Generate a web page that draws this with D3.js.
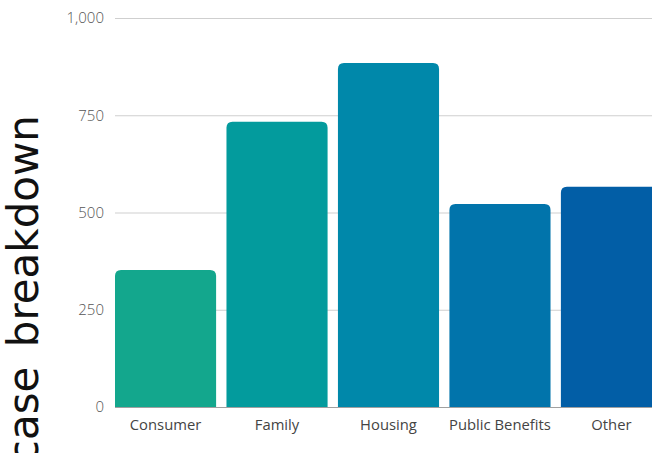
<!DOCTYPE html>
<html>
<head>
<meta charset="utf-8">
<script src="https://cdn.jsdelivr.net/npm/d3@7"></script>
<style>
  body { margin: 0; background: #fff; }
  svg { display: block; }
</style>
</head>
<body>
<svg id="chart" width="652" height="453"></svg>
<script>
var categories = ["Consumer", "Family", "Housing", "Public Benefits", "Other"];
var values = [352, 733, 884, 522, 566];
var colors = ["#13a78d", "#039b9d", "#0088aa", "#0174ab", "#025ea6"];
var yTicks = [0, 250, 500, 750, 1000];

var svg = d3.select("#chart");
var width = 652, height = 453;
var plotLeft = 115, plotBottom = 407, plotTop = 18;

var x = d3.scaleBand()
    .domain(categories)
    .range([plotLeft, 662])
    .paddingInner(0.093)
    .paddingOuter(0);

var y = d3.scaleLinear()
    .domain([0, 1000])
    .range([plotBottom, plotTop]);

// grid
svg.append("g")
    .selectAll("line")
    .data(yTicks.filter(function(d) { return d > 0; }))
    .join("line")
    .attr("x1", plotLeft)
    .attr("x2", width)
    .attr("y1", function(d) { return y(d) + 0.5; })
    .attr("y2", function(d) { return y(d) + 0.5; })
    .attr("stroke", "#cfcfcf")
    .attr("stroke-width", 1);

// y tick labels
var fmt = d3.format(",");
svg.append("g")
    .selectAll("text")
    .data(yTicks)
    .join("text")
    .attr("x", 104)
    .attr("y", function(d) { return y(d); })
    .attr("dy", "0.35em")
    .attr("text-anchor", "end")
    .attr("font-family", "'Open Sans', sans-serif")
    .attr("font-weight", 300)
    .attr("font-size", 15)
    .attr("fill", "#555")
    .text(function(d) { return fmt(d); });

// bars with rounded tops
function barPath(x0, y0, w, h, r) {
    return "M" + x0 + "," + (y0 + h) +
        "V" + (y0 + r) +
        "Q" + x0 + "," + y0 + " " + (x0 + r) + "," + y0 +
        "H" + (x0 + w - r) +
        "Q" + (x0 + w) + "," + y0 + " " + (x0 + w) + "," + (y0 + r) +
        "V" + (y0 + h) + "Z";
}

svg.append("g")
    .selectAll("path")
    .data(categories)
    .join("path")
    .attr("d", function(d, i) {
        return barPath(x(d), y(values[i]), x.bandwidth(), plotBottom - y(values[i]), 6);
    })
    .attr("fill", function(d, i) { return colors[i]; });

// baseline
svg.append("line")
    .attr("x1", plotLeft)
    .attr("x2", width)
    .attr("y1", plotBottom + 0.5)
    .attr("y2", plotBottom + 0.5)
    .attr("stroke", "#a0a0a0")
    .attr("stroke-width", 1);

// category labels
svg.append("g")
    .selectAll("text")
    .data(categories)
    .join("text")
    .attr("x", function(d) { return x(d) + x.bandwidth() / 2; })
    .attr("y", 430)
    .attr("text-anchor", "middle")
    .attr("font-family", "'Open Sans', sans-serif")
    .attr("font-size", 14.8)
    .attr("fill", "#444")
    .text(function(d) { return d; });

// y title
svg.append("text")
    .attr("transform", "translate(38,115) rotate(-90)")
    .attr("text-anchor", "end")
    .attr("font-family", "'DejaVu Sans', sans-serif")
    .attr("font-size", 42)
    .attr("word-spacing", 6)
    .attr("fill", "#111")
    .text("case breakdown");
</script>
</body>
</html>
